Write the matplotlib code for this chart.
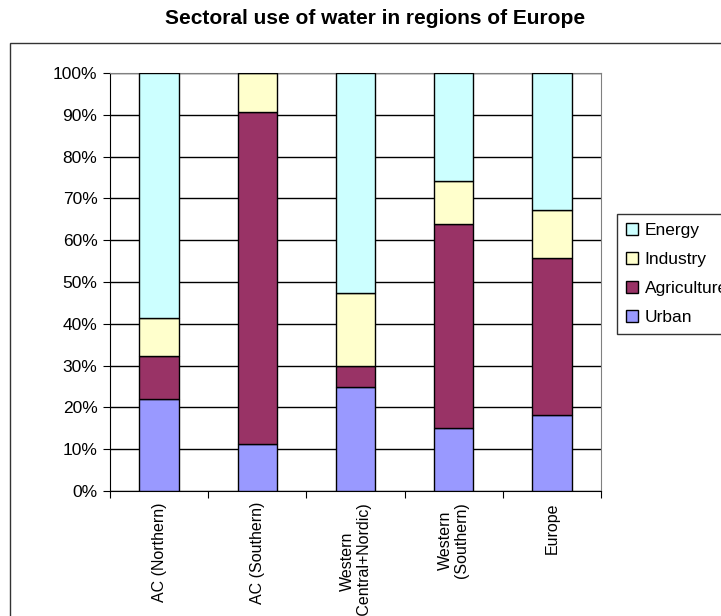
import numpy as np
import matplotlib.pyplot as plt
from matplotlib.patches import Rectangle
from matplotlib.ticker import FixedLocator, PercentFormatter

plt.rcParams['font.family'] = ['Liberation Sans', 'DejaVu Sans']

# share of water use per sector (%)
regions = ['AC (Northern)', 'AC (Southern)', 'Western\n(Central+Nordic)', 'Western\n(Southern)', 'Europe']
urban = [22.1, 11.2, 24.8, 15.1, 18.1]
agriculture = [10.1, 79.5, 5.1, 48.8, 37.6]
industry = [9.2, 9.3, 17.5, 10.3, 11.5]
energy = [58.6, 0.0, 52.6, 25.8, 32.8]

series = [('Urban', urban, '#9999ff'),
          ('Agriculture', agriculture, '#993366'),
          ('Industry', industry, '#ffffcc'),
          ('Energy', energy, '#ccffff')]

fig = plt.figure(figsize=(7.21, 6.16), dpi=100)
ax = fig.add_axes([110 / 721, 1 - 491 / 616, 491 / 721, 418 / 616])

# outer chart frame
fig.patches.append(Rectangle((10 / 721, -0.1), 1.0, 1 - 43 / 616 + 0.1, transform=fig.transFigure,
                             fill=False, edgecolor='#333333', linewidth=1.0))

x = np.arange(len(regions))
bottom = np.zeros(len(regions))
handles = []
for name, vals, color in series:
    vals = np.array(vals)
    b = ax.bar(x, vals, 0.4, bottom=bottom, color=color, edgecolor='black', linewidth=1.0,
               label=name, zorder=3)
    handles.append(b)
    bottom += vals

ax.set_xlim(-0.5, len(regions) - 0.5)
ax.set_ylim(0, 100)
ax.set_yticks(np.arange(0, 101, 10))
ax.yaxis.set_major_formatter(PercentFormatter(decimals=0))
ax.grid(axis='y', color='black', linewidth=1.0, zorder=0)
for s in ax.spines.values():
    s.set_color('#808080')
ax.spines['left'].set_color('black')
ax.spines['bottom'].set_color('black')

# category ticks sit between the bars, labels under each bar
ax.xaxis.set_major_locator(FixedLocator(np.arange(-0.5, len(regions), 1.0)))
ax.xaxis.set_major_formatter(plt.NullFormatter())
ax.xaxis.set_minor_locator(FixedLocator(x))
ax.set_xticklabels(regions, minor=True, rotation=90, va='top', ha='center',
                   multialignment='center', fontsize=11.5, linespacing=1.1)
ax.tick_params(axis='x', which='minor', length=0, pad=8)
ax.tick_params(axis='x', which='major', length=5, direction='out')
ax.tick_params(axis='y', length=5, direction='out', labelsize=12.5, pad=4)

fig.text(375 / 721, 1 - 18 / 616, 'Sectoral use of water in regions of Europe',
         ha='center', va='center', fontsize=15, fontweight='bold')

leg = fig.legend(handles[::-1], [s[0] for s in series][::-1], loc='lower left',
                 bbox_to_anchor=(617 / 721, 1 - 334 / 616), fontsize=12.5, frameon=True,
                 fancybox=False, edgecolor='black', handlelength=0.7, handleheight=0.7,
                 handletextpad=0.4, labelspacing=0.8, borderpad=0.5, borderaxespad=0)
leg.get_frame().set_linewidth(1.0)

fig.savefig('out.png', dpi=100)
